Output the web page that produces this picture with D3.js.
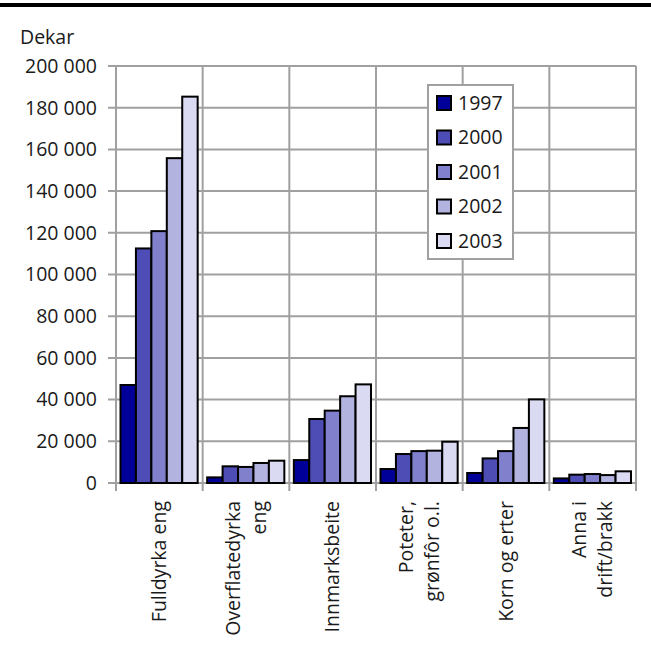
<!DOCTYPE html>
<html>
<head>
<meta charset="utf-8">
<script src="https://cdn.jsdelivr.net/npm/d3@7"></script>
<style>
  body { margin: 0; background: #fff; }
  text { font-family: "Open Sans", sans-serif; fill: #1a1a1a; }
</style>
</head>
<body>
<div id="chart"></div>
<script>
// categories and label lines
const categories = ["Fulldyrka eng", "Overflatedyrka eng", "Innmarksbeite", "Poteter, grønfôr o.l.", "Korn og erter", "Anna i drift/brakk"];
const categoryLines = [["Fulldyrka eng"], ["Overflatedyrka", "eng"], ["Innmarksbeite"], ["Poteter,", "grønfôr o.l."], ["Korn og erter"], ["Anna i", "drift/brakk"]];
const years = ["1997", "2000", "2001", "2002", "2003"];
const colors = ["#000099", "#4d4db5", "#8080cc", "#b3b3e0", "#dadaf2"];

// values per year, in category order (dekar)
const v1997 = [47000, 2700, 11000, 6700, 4800, 2200];
const v2000 = [112500, 8000, 30700, 13900, 11800, 4000];
const v2001 = [120800, 7700, 34700, 15300, 15300, 4300];
const v2002 = [155800, 9600, 41600, 15500, 26400, 3800];
const v2003 = [185300, 10700, 47300, 19800, 40100, 5600];
const series = [v1997, v2000, v2001, v2002, v2003];

const yTicks = [0, 20000, 40000, 60000, 80000, 100000, 120000, 140000, 160000, 180000, 200000];

const W = 651, H = 651;
const plotLeft = 116, plotRight = 636, plotTop = 66, plotBottom = 483;

const svg = d3.select("#chart").append("svg")
    .attr("width", W).attr("height", H);

// top rule
svg.append("line")
    .attr("x1", 0).attr("x2", W).attr("y1", 5).attr("y2", 5)
    .attr("stroke", "#000").attr("stroke-width", 4);

const x = d3.scaleBand().domain(categories).range([plotLeft, plotRight]).padding(0);
const xi = d3.scaleBand().domain(years).range([4.5, x.bandwidth() - 5]).padding(0);
const y = d3.scaleLinear().domain([0, 200000]).range([plotBottom, plotTop]);

const fmt = d3.formatLocale({ decimal: ",", thousands: " ", grouping: [3], currency: ["", ""] }).format(",d");

// horizontal grid + ticks
svg.append("g").selectAll("line")
    .data(yTicks)
    .enter().append("line")
    .attr("x1", plotLeft - 8).attr("x2", plotRight)
    .attr("y1", d => y(d)).attr("y2", d => y(d))
    .attr("stroke", "#a0a0a0").attr("stroke-width", 2);

// vertical dividers
const dividers = categories.map(c => x(c)).concat([plotRight]);
svg.append("g").selectAll("line")
    .data(dividers)
    .enter().append("line")
    .attr("x1", d => d).attr("x2", d => d)
    .attr("y1", plotTop).attr("y2", plotBottom + 8)
    .attr("stroke", "#a0a0a0").attr("stroke-width", 2);

// y tick labels
svg.append("g").selectAll("text")
    .data(yTicks)
    .enter().append("text")
    .attr("x", 97).attr("y", d => y(d))
    .attr("dy", "0.35em")
    .attr("text-anchor", "end")
    .attr("font-size", 19.5)
    .text(d => fmt(d));

svg.append("text")
    .attr("x", 20).attr("y", 44)
    .attr("font-size", 19.5)
    .text("Dekar");

// bars
years.forEach((yr, j) => {
    svg.append("g").selectAll("rect")
        .data(categories)
        .enter().append("rect")
        .attr("x", c => x(c) + xi(yr))
        .attr("y", (c, i) => y(series[j][i]))
        .attr("width", xi.bandwidth())
        .attr("height", (c, i) => plotBottom - y(series[j][i]))
        .attr("fill", colors[j])
        .attr("stroke", "#000")
        .attr("stroke-width", 2);
});

// category labels, rotated
categories.forEach((c, i) => {
    const lines = categoryLines[i];
    const cx = x(c) + x.bandwidth() / 2;
    const spacing = 26;
    lines.forEach((ln, k) => {
        const off = (k - (lines.length - 1) / 2) * spacing;
        svg.append("text")
            .attr("transform", `translate(${cx + off},501) rotate(-90)`)
            .attr("text-anchor", "end")
            .attr("dy", "0.35em")
            .attr("font-size", 19.5)
            .text(ln);
    });
});

// legend
const lg = svg.append("g").attr("transform", "translate(428,85)");
lg.append("rect")
    .attr("width", 85).attr("height", 174)
    .attr("fill", "#fff").attr("stroke", "#a0a0a0").attr("stroke-width", 2);
const item = lg.selectAll("g.item")
    .data(years)
    .enter().append("g")
    .attr("class", "item")
    .attr("transform", (d, i) => `translate(0,${18 + i * 34.5})`);
item.append("rect")
    .attr("x", 9).attr("y", -7).attr("width", 14).attr("height", 14)
    .attr("fill", (d, i) => colors[i])
    .attr("stroke", "#000").attr("stroke-width", 2);
item.append("text")
    .attr("x", 30).attr("dy", "0.35em")
    .attr("font-size", 19.5)
    .text(d => d);
</script>
</body>
</html>
